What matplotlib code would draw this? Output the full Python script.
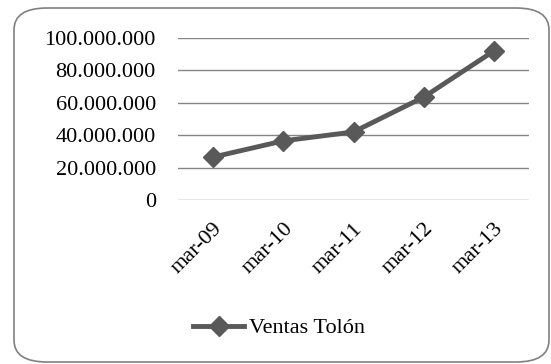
import matplotlib.pyplot as plt
from matplotlib.patches import FancyBboxPatch
from matplotlib.ticker import FuncFormatter

# datos
periodos = ["mar-09", "mar-10", "mar-11", "mar-12", "mar-13"]
ventas = [26500000, 36500000, 42000000, 63500000, 92000000]

plt.rcParams['font.family'] = ['Liberation Serif', 'DejaVu Serif']

fig = plt.figure(figsize=(5.51, 3.64), dpi=100)

# marco redondeado
marco = FancyBboxPatch((14 / 551, 2 / 364), 535 / 551, 354 / 364,
                       boxstyle="round,pad=0,rounding_size=0.06",
                       transform=fig.transFigure, facecolor="white",
                       edgecolor="#808080", linewidth=1.2, zorder=-10)
fig.patches.append(marco)

ax = fig.add_axes([178 / 551, 1 - 200 / 364, 351 / 551, 162 / 364])
ax.set_facecolor("none")

x = range(len(periodos))
ax.plot(x, ventas, color="#595959", linewidth=3.5, marker="D", markersize=10,
        label="Ventas Tolón")

ax.set_xlim(-0.5, len(periodos) - 0.5)
ax.set_ylim(0, 100000000)
ax.set_yticks(range(0, 100000001, 20000000))
ax.yaxis.set_major_formatter(FuncFormatter(lambda v, p: f"{int(v):,}".replace(",", ".")))
ax.grid(axis="y", color="#868686", linewidth=1)
ax.set_axisbelow(True)

ax.set_xticks(list(x))
ax.set_xticklabels(periodos, rotation=45, ha="right", va="top", rotation_mode="anchor")

for s in ax.spines.values():
    s.set_visible(False)
ax.tick_params(axis="y", length=0, pad=16, labelsize=16)
ax.tick_params(axis="x", length=0, pad=14, labelsize=16)

fig.legend(loc="center", bbox_to_anchor=(279 / 551, 1 - 328 / 364), frameon=False,
           fontsize=16, handlelength=2.3, handletextpad=0.2)

fig.savefig("out.png", dpi=100)
